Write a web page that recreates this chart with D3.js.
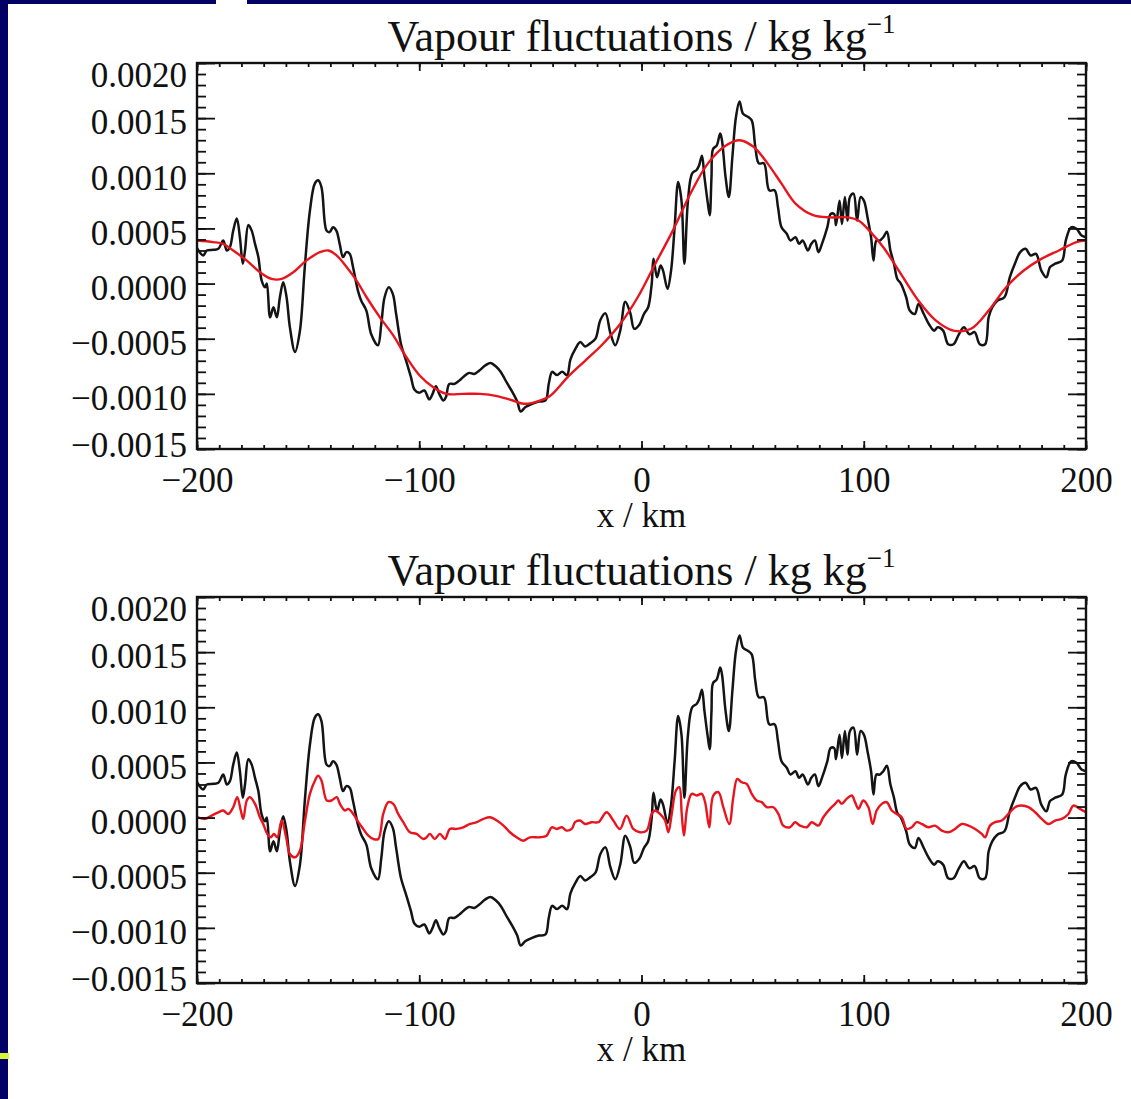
<!DOCTYPE html>
<html>
<head>
<meta charset="utf-8">
<script src="https://cdn.jsdelivr.net/npm/d3@7"></script>
<style>
  body { margin: 0; background: #fff; }
  text { font-family: "Liberation Serif", "Times New Roman", serif; fill: #111; }
</style>
</head>
<body>
<svg id="chart"></svg>
<script>
// x / km and vapour fluctuation (kg/kg)

// black curve: total vapour fluctuation (same in both panels)
var blackX = [-200, -197.2, -195.6, -192.7, -190.4, -188.2, -186.6, -185.2, -183.7, -182.1, -180.7, -179.4, -178.4, -176.9, -175.4, -173.9, -172.4, -170.9, -169.4, -168.6, -167.1, -165.6, -164.1, -162.7, -161.2, -159.7, -158.2, -155.9, -153.7, -151.5, -149.2, -147.0, -145.5, -144.0, -141.7, -140.3, -138.8, -137.3, -135.8, -134.3, -132.8, -131.3, -129.8, -127.6, -126.1, -123.8, -121.6, -118.6, -117.1, -115.6, -113.7, -111.9, -110.4, -108.2, -105.9, -103.7, -102.2, -100.0, -97.7, -95.5, -94.0, -92.5, -91.0, -89.1, -88.0, -86.5, -84.3, -82.0, -79.8, -77.6, -75.3, -73.1, -70.1, -67.9, -65.6, -63.4, -60.4, -58.2, -55.9, -54.4, -52.2, -49.2, -46.2, -43.2, -41.7, -40.2, -38.0, -35.7, -33.5, -32.0, -29.7, -27.5, -25.4, -23.0, -20.7, -18.5, -16.2, -14.0, -11.8, -9.5, -7.3, -5.0, -3.3, -0.9, 1.1, 3.0, 4.6, 5.4, 7.0, 8.6, 9.7, 11.7, 13.3, 14.9, 16.5, 18.0, 19.3, 20.9, 22.8, 24.8, 25.9, 27.2, 28.3, 29.9, 30.7, 31.5, 32.2, 33.8, 35.4, 36.2, 37.8, 39.3, 40.9, 42.5, 44.1, 45.7, 48.0, 49.6, 51.2, 52.8, 55.1, 57.5, 59.9, 61.4, 63.0, 65.4, 67.0, 69.3, 70.9, 72.5, 74.9, 76.4, 78.0, 79.6, 81.2, 83.6, 85.1, 86.7, 87.5, 89.1, 90.2, 91.5, 92.7, 93.8, 95.4, 97.0, 98.6, 100.1, 101.7, 103.3, 104.4, 105.7, 107.2, 108.8, 110.4, 112.0, 113.6, 115.1, 116.7, 119.1, 120.7, 123.0, 124.6, 127.0, 129.3, 131.7, 133.3, 135.7, 138.0, 140.4, 142.8, 145.1, 147.5, 149.9, 152.2, 154.6, 156.2, 157.8, 160.1, 163.3, 165.7, 168.0, 170.4, 172.8, 175.1, 177.5, 179.9, 182.2, 183.8, 186.2, 189.3, 190.9, 193.3, 195.7, 198.0, 200];
var blackV = [0.00032, 0.000255, 0.0003, 0.000306, 0.000315, 0.00039, 0.0003, 0.00033, 0.00048, 0.00059, 0.00042, 0.00018, 0.0003, 0.00053, 0.00048, 0.00036, 0.00024, 0.000027, -0.000033, 0.0, -0.000306, -0.000215, -0.000306, -0.000124, 0.000012, -0.000124, -0.000397, -0.00062, -0.00043, 0.00015, 0.00066, 0.000906, 0.000936, 0.000875, 0.00048, 0.000467, 0.00051, 0.00048, 0.00036, 0.00024, 0.000285, 0.00027, 0.00015, -0.000064, -0.000155, -0.000245, -0.00046, -0.00056, -0.00037, -0.000124, -0.000033, -0.000094, -0.000276, -0.00055, -0.0007, -0.00085, -0.00096, -0.00099, -0.00097, -0.00105, -0.001, -0.00093, -0.001, -0.00106, -0.00103, -0.00091, -0.00091, -0.00088, -0.00084, -0.00081, -0.00082, -0.00079, -0.00074, -0.00072, -0.00075, -0.0008, -0.000906, -0.00098, -0.00107, -0.00116, -0.00112, -0.00109, -0.00107, -0.00106, -0.000906, -0.0008, -0.00083, -0.0008, -0.00083, -0.00069, -0.00059, -0.00053, -0.00057, -0.00054, -0.0005, -0.00033, -0.00027, -0.00045, -0.00056, -0.00042, -0.000164, -0.00027, -0.00041, -0.00037, -0.000276, -0.000215, 0.0, 0.000224, 0.000057, 0.000164, 0.000118, -0.000048, 0.000118, 0.00051, 0.00092, 0.00075, 0.00018, 0.00075, 0.001, 0.00103, 0.00107, 0.00116, 0.00097, 0.00072, 0.00062, 0.00097, 0.00122, 0.00125, 0.00136, 0.0013, 0.00097, 0.000785, 0.00115, 0.00151, 0.00165, 0.00154, 0.00151, 0.00148, 0.00124, 0.00109, 0.00109, 0.000845, 0.000845, 0.000694, 0.00051, 0.00045, 0.00039, 0.00042, 0.00036, 0.00039, 0.0003, 0.00036, 0.00039, 0.000285, 0.00036, 0.00051, 0.00063, 0.00063, 0.00053, 0.00075, 0.00054, 0.000785, 0.00057, 0.000785, 0.000815, 0.00057, 0.000785, 0.00075, 0.0006, 0.00042, 0.00021, 0.00039, 0.00039, 0.00042, 0.00047, 0.0003, 0.00018, 0.000042, 0.0, -0.000124, -0.000245, -0.000276, -0.000185, -0.000276, -0.000367, -0.000427, -0.000397, -0.000427, -0.00055, -0.00055, -0.00046, -0.000397, -0.00046, -0.00044, -0.00055, -0.00055, -0.000306, -0.000215, -0.000155, -0.000124, 0.000057, 0.00018, 0.000285, 0.000315, 0.000255, 0.00027, 0.000118, 0.000057, 0.00015, 0.00018, 0.00021, 0.00039, 0.00051, 0.000497, 0.000436, 0.00042];

// red curve, top panel: large-scale part
var smoothX = [-200, -192.7, -188.2, -183.7, -177.7, -171.7, -166.4, -161.9, -156.7, -150.7, -144.7, -140.9, -137.2, -132.7, -128.2, -123.7, -117.7, -111.7, -105.7, -99.7, -93.7, -87.8, -80.3, -72.7, -65, -58, -53, -47, -41.2, -33.3, -25.4, -17.5, -9.6, -1.7, 6.2, 14.1, 22.0, 29.9, 37.8, 44.1, 50.4, 56.7, 63.0, 69.3, 77.2, 85.1, 93.0, 97.8, 102.5, 108.8, 116.7, 124.6, 132.5, 140.4, 148.3, 156.2, 164.1, 172.0, 179.9, 187.8, 195.7, 200];
var smoothV = [0.00039, 0.000376, 0.00036, 0.0003, 0.00021, 0.000103, 0.000042, 0.000042, 0.000103, 0.00021, 0.000285, 0.0003, 0.000255, 0.00015, 0.000027, -0.000124, -0.000306, -0.00047, -0.00067, -0.000836, -0.00094, -0.001, -0.001, -0.001, -0.00102, -0.00106, -0.00109, -0.00107, -0.00102, -0.00085, -0.0007, -0.00055, -0.000367, -0.000124, 0.00018, 0.00048, 0.000815, 0.00109, 0.00125, 0.0013, 0.00124, 0.00109, 0.000906, 0.000725, 0.00062, 0.0006, 0.0006, 0.00057, 0.00048, 0.00033, 0.000088, -0.000155, -0.000336, -0.000427, -0.00041, -0.000245, -0.000033, 0.000118, 0.000224, 0.0003, 0.000376, 0.00039];

// red curve, bottom panel: small-scale part
var smallX = [-200, -196.4, -193.4, -190.4, -188.2, -185.9, -183.7, -181.9, -180.3, -179.2, -177.6, -176.2, -173.9, -171.7, -170.2, -168.4, -166.8, -165.4, -163.9, -161.9, -159.9, -158.2, -155.9, -153.7, -151.4, -149.2, -146.9, -145.5, -144.0, -141.6, -139.4, -137.1, -135.7, -133.4, -131.9, -129.7, -127.4, -125.2, -122.9, -120.7, -118.4, -116.2, -113.9, -111.7, -109.5, -107.2, -104.2, -101.2, -98.2, -96.7, -95.2, -93.0, -90.7, -88.4, -86.2, -83.2, -80.2, -77.2, -74.1, -71.1, -68.1, -65.1, -62.1, -59.2, -56.2, -53.2, -50.2, -45.7, -42.7, -40.4, -38.2, -35.9, -33.7, -31.4, -29.9, -27.7, -25.4, -22.4, -19.4, -15.7, -12.7, -9.7, -6.7, -3.7, -0.7, 2.3, 4.6, 6.1, 8.3, 10.6, 12.1, 13.6, 15.5, 17.0, 18.1, 19.1, 20.6, 22.6, 24.8, 27.1, 28.6, 30.5, 32.3, 34.6, 36.8, 39.5, 41.3, 43.1, 45.1, 47.3, 49.6, 51.8, 54.1, 56.3, 59.3, 61.6, 63.8, 66.8, 69.1, 71.3, 74.3, 76.6, 79.6, 81.8, 84.8, 87.1, 88.6, 90.1, 92.3, 94.6, 96.1, 97.6, 99.8, 102.1, 104.0, 105.8, 108.1, 110.3, 112.6, 114.8, 117.1, 119.3, 121.6, 123.8, 126.1, 129.1, 132.1, 135.1, 138.1, 141.1, 144.1, 147.1, 150.1, 153.1, 154.6, 156.8, 159.1, 162.1, 165.1, 168.1, 171.1, 174.1, 177.1, 180.1, 183.1, 186.1, 189.1, 192.1, 194.3, 197.3, 200];
var smallV = [0.000003, -0.000012, 0.000018, 0.000048, 0.000064, 0.000033, 0.000094, 0.000185, 0.000064, -0.000012, 0.000155, 0.000185, 0.000124, 0.000003, -0.000058, -0.000148, -0.000179, -0.000148, -0.000179, -0.000027, -0.000179, -0.00033, -0.00036, -0.0003, -0.000027, 0.000215, 0.000336, 0.00038, 0.000336, 0.000155, 0.000155, 0.000185, 0.000124, 0.000064, 0.000079, 0.000033, -0.000042, -0.000103, -0.000164, -0.000194, -0.000194, 0.000033, 0.00014, 0.000124, 0.000033, -0.000042, -0.000133, -0.000148, -0.000194, -0.000179, -0.000148, -0.000194, -0.000148, -0.000194, -0.000103, -0.000103, -0.000088, -0.000058, -0.000042, -0.000012, 0.000003, -0.000027, -0.000073, -0.000133, -0.000179, -0.00021, -0.000179, -0.000179, -0.000164, -0.000088, -0.000103, -0.000088, -0.000118, -0.000103, -0.000042, -0.000027, -0.000058, -0.000042, -0.000042, 0.000048, -0.000027, -0.000103, 0.000018, -0.000103, -0.000133, -0.000118, 0.000033, 0.000064, 0.000033, -0.000027, -0.000133, 0.000033, 0.000245, 0.000276, 0.000033, -0.000164, 0.000094, 0.000215, 0.0002, 0.000215, 0.00014, -0.000088, 0.0002, 0.00023, 0.000094, -0.000058, 0.000185, 0.00035, 0.00032, 0.000306, 0.000215, 0.000155, 0.00014, 0.000094, 0.000094, 0.000033, -0.000073, -0.000088, -0.000042, -0.000073, -0.000088, -0.000042, -0.000073, 0.000003, 0.000079, 0.000124, 0.000155, 0.000124, 0.00017, 0.0002, 0.00014, 0.000079, 0.000155, 0.000094, -0.000058, 0.000064, 0.000124, 0.00014, 0.000064, 0.000033, 0.000003, -0.000103, -0.000088, -0.000042, -0.000058, -0.000088, -0.000073, -0.000118, -0.000133, -0.000103, -0.000058, -0.000073, -0.000103, -0.000148, -0.000179, -0.000073, -0.000042, -0.000027, 0.000033, 0.000094, 0.000109, 0.000094, 0.000048, -0.000012, -0.000058, -0.000027, -0.000012, 0.000033, 0.000109, 0.000079, 0.000048];

var xTicks = [-200, -100, 0, 100, 200];
var yTicks = [-0.0015, -0.0010, -0.0005, 0.0000, 0.0005, 0.0010, 0.0015, 0.0020];

var W = 1131, H = 1099;
var svg = d3.select("#chart").attr("width", W).attr("height", H);

svg.append("rect").attr("width", W).attr("height", H).attr("fill", "#fff");
// slide frame bits
svg.append("rect").attr("x", 0).attr("y", 0).attr("width", 8).attr("height", H).attr("fill", "#020265");
svg.append("rect").attr("x", 0).attr("y", 0).attr("width", 216).attr("height", 4).attr("fill", "#020265");
svg.append("rect").attr("x", 247).attr("y", 0).attr("width", W - 247).attr("height", 4).attr("fill", "#020265");
svg.append("rect").attr("x", 0).attr("y", 1053).attr("width", 9).attr("height", 6).attr("fill", "#d2f53a");

var left = 197, right = 1086;
var x = d3.scaleLinear().domain([-200, 200]).range([left, right]);

var fmtY = function(d) {
  var s = Math.abs(d).toFixed(4);
  return d < -1e-9 ? "\u2212" + s : s;
};
var fmtX = function(d) { return d < 0 ? "\u2212" + Math.abs(d) : "" + d; };

function panel(top, bottom, redX, redV) {
  var y = d3.scaleLinear().domain([-0.0015, 0.0020]).range([bottom, top]);
  var g = svg.append("g");

  var line = d3.line()
    .x(function(d) { return x(d[0]); })
    .y(function(d) { return y(d[1]); })
    .curve(d3.curveCatmullRom.alpha(0.5));

  g.append("path").datum(d3.zip(blackX, blackV))
    .attr("d", line).attr("fill", "none")
    .attr("stroke", "#141414").attr("stroke-width", 2.5);

  g.append("path").datum(d3.zip(redX, redV))
    .attr("d", line).attr("fill", "none")
    .attr("stroke", "#e8141e").attr("stroke-width", 2.4);

  var minorX = d3.range(-200, 201, 10);
  var minorY = d3.range(-15, 21).map(function(i) { return i / 10000; });

  // inward ticks on all four sides, IDL style
  g.append("g").attr("transform", "translate(0," + bottom + ")")
    .call(d3.axisBottom(x).tickValues(minorX).tickSize(-4).tickFormat(""));
  g.append("g").attr("transform", "translate(0," + top + ")")
    .call(d3.axisTop(x).tickValues(minorX).tickSize(-4).tickFormat(""));
  g.append("g").attr("transform", "translate(0," + top + ")")
    .call(d3.axisTop(x).tickValues(xTicks).tickSize(-8).tickFormat(""));
  var xa = g.append("g").attr("transform", "translate(0," + bottom + ")")
    .call(d3.axisBottom(x).tickValues(xTicks).tickSize(-8).tickPadding(18).tickFormat(fmtX));

  g.append("g").attr("transform", "translate(" + left + ",0)")
    .call(d3.axisLeft(y).tickValues(minorY).tickSize(-9).tickFormat(""));
  g.append("g").attr("transform", "translate(" + right + ",0)")
    .call(d3.axisRight(y).tickValues(minorY).tickSize(-9).tickFormat(""));
  g.append("g").attr("transform", "translate(" + right + ",0)")
    .call(d3.axisRight(y).tickValues(yTicks).tickSize(-18).tickFormat(""));
  var ya = g.append("g").attr("transform", "translate(" + left + ",0)")
    .call(d3.axisLeft(y).tickValues(yTicks).tickSize(-18).tickPadding(10).tickFormat(fmtY));

  g.selectAll(".domain").remove();
  g.selectAll(".tick line").attr("stroke", "#111").attr("stroke-width", 1.8);

  xa.selectAll("text").style("font-size", "35px").attr("fill", "#111");
  ya.selectAll("text").style("font-size", "35px").attr("fill", "#111")
    .attr("dy", function(d) {
      if (d === 0.0020) return "0.68em";
      if (d === -0.0015) return "0.2em";
      return "0.45em";
    });

  g.append("rect").attr("x", left).attr("y", top)
    .attr("width", right - left).attr("height", bottom - top)
    .attr("fill", "none").attr("stroke", "#111").attr("stroke-width", 2.4);

  var t = g.append("text").attr("x", (left + right) / 2).attr("y", top - 12)
    .attr("text-anchor", "middle").style("font-size", "44px")
    .text("Vapour fluctuations / kg kg");
  t.append("tspan").attr("dy", -18).style("font-size", "27px").text("\u22121");

  g.append("text").attr("x", (left + right) / 2).attr("y", bottom + 78)
    .attr("text-anchor", "middle").style("font-size", "35px")
    .text("x / km");
}

panel(63, 449, smoothX, smoothV);
panel(597, 983, smallX, smallV);
</script>
</body>
</html>
